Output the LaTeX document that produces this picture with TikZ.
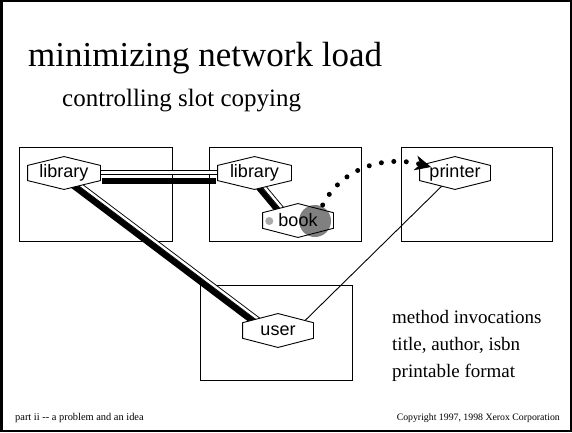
\documentclass[tikz,border=0pt]{standalone}
\usepackage{fontspec}
\setmainfont{Liberation Serif}
\newfontfamily\hvfont{Liberation Sans}
\usetikzlibrary{arrows.meta,calc}
\pgfdeclarelayer{bg}
\pgfdeclarelayer{conn}
\pgfsetlayers{bg,conn,main}
\makeatletter
\pgfdeclareshape{hexa}{%
  \inheritsavedanchors[from=rectangle]%
  \inheritanchorborder[from=rectangle]%
  \inheritanchor[from=rectangle]{center}%
  \inheritanchor[from=rectangle]{north}%
  \inheritanchor[from=rectangle]{south}%
  \inheritanchor[from=rectangle]{east}%
  \inheritanchor[from=rectangle]{west}%
  \inheritanchor[from=rectangle]{north east}%
  \inheritanchor[from=rectangle]{north west}%
  \inheritanchor[from=rectangle]{south east}%
  \inheritanchor[from=rectangle]{south west}%
  \backgroundpath{%
    \southwest \pgf@xa=\pgf@x \pgf@ya=\pgf@y
    \northeast \pgf@xb=\pgf@x \pgf@yb=\pgf@y
    \pgf@xc=.5\pgf@xa \advance\pgf@xc by .5\pgf@xb
    \pgf@yc=\pgf@yb \advance\pgf@yc by -\pgf@ya
    \pgf@yc=.27\pgf@yc
    \edef\hxa{\the\pgf@xa}\edef\hxb{\the\pgf@xb}\edef\hxc{\the\pgf@xc}%
    \edef\hya{\the\pgf@ya}\edef\hyb{\the\pgf@yb}%
    \pgf@y=\pgf@yb \advance\pgf@y by -\pgf@yc \edef\hyu{\the\pgf@y}%
    \pgf@y=\pgf@ya \advance\pgf@y by \pgf@yc \edef\hyl{\the\pgf@y}%
    \pgfpathmoveto{\pgfpoint{\hxc}{\hyb}}%
    \pgfpathlineto{\pgfpoint{\hxb}{\hyu}}%
    \pgfpathlineto{\pgfpoint{\hxb}{\hyl}}%
    \pgfpathlineto{\pgfpoint{\hxc}{\hya}}%
    \pgfpathlineto{\pgfpoint{\hxa}{\hyl}}%
    \pgfpathlineto{\pgfpoint{\hxa}{\hyu}}%
    \pgfpathclose
  }%
}
\makeatother
\definecolor{cgray}{RGB}{128,128,128}
\definecolor{dgray}{RGB}{170,170,170}
\begin{document}
\begin{tikzpicture}[x=1pt,y=1pt,
  box/.style={draw, line width=1pt, inner sep=0pt},
  hex/.style={shape=hexa, draw, line width=0.9pt, fill=white, inner sep=0pt,
    minimum width=71pt, minimum height=32pt, font=\hvfont\fontsize{18}{20}\selectfont},
  thickbar/.style={line width=6pt},
  dbl/.style={double=white, double distance=2.4pt, line width=0.9pt},
  thinline/.style={line width=0.9pt},
  dotarrow/.style={line width=5pt, line cap=round, dash pattern=on 0pt off 12.5pt,
    -{Stealth[length=16pt,width=15pt,inset=5pt,line width=0.8pt]}},
  body/.style={font=\fontsize{19}{22}\selectfont, anchor=base west, inner sep=0pt},
]
\useasboundingbox (0,0) rectangle (572,432);
\draw[line width=2.5pt] (1.25,1.25) rectangle (570.75,430.75);

% titles
\node[font=\fontsize{35}{40}\selectfont, anchor=base west, inner sep=0pt] (title) at (28,365) {minimizing network load};
\node[font=\fontsize{25}{30}\selectfont, anchor=base west, inner sep=0pt] (subtitle) at (62,326) {controlling slot copying};

% boxes
\begin{pgfonlayer}{bg}
\node[box, minimum width=153pt, minimum height=94pt] (box1) at (95.5,238) {};
\node[box, minimum width=152pt, minimum height=94pt] (box2) at (285,238) {};
\node[box, minimum width=151pt, minimum height=94pt] (box3) at (476.5,238) {};
\node[box, minimum width=152pt, minimum height=95pt] (box4) at (276,99.5) {};
\end{pgfonlayer}

% hexagon objects
\node[hex, minimum width=72pt] (lib1) at (64,259) {library};
\node[hex, minimum width=73pt] (lib2) at (254.5,259) {library};
\node[hex, minimum width=70pt] (printer) at (455,259) {printer};
\node[hex, minimum width=70pt, minimum height=33pt,
  path picture={\fill[cgray] ([xshift=17pt,yshift=-0.5pt]path picture bounding box.center) circle[radius=16pt];}]
  (book) at (298,211.5) {book};
\node[hex, minimum width=70pt, minimum height=33pt] (user) at (278,101.5) {user};

% gray marks on book
\begin{pgfonlayer}{bg}
\fill[cgray] ([xshift=17pt,yshift=-0.5pt]book.center) circle[radius=16pt];
\end{pgfonlayer}
\fill[dgray] ([xshift=-28.7pt,yshift=-0.5pt]book.center) circle[radius=4pt];

% connectors
\begin{pgfonlayer}{conn}
\draw[dbl] ([yshift=0.5pt]lib1.center) -- ([yshift=0.5pt]lib2.center);
\draw[thickbar] ([shift={(38,-7.5)}]lib1.center) -- ([shift={(-38.5,-7.5)}]lib2.center);
\draw[thickbar] ([shift={(6.2,-10.4)}]lib1.center) -- ([shift={(-22.2,7)}]user.center);
\draw[dbl] ([shift={(13.2,-9.5)}]lib1.center) -- ([shift={(-16.6,9)}]user.center);
\draw[thickbar, line width=5.5pt] ([shift={(1.3,-11.3)}]lib2.center) -- ([shift={(-18.8,8.2)}]book.center);
\draw[dbl] ([shift={(6.7,-10.2)}]lib2.center) -- ([shift={(-12.9,8.6)}]book.center);
\draw[thinline] ([shift={(-6,-6)}]printer.center) -- ([shift={(22,5)}]user.center);
\end{pgfonlayer}
\draw[dotarrow] ([shift={(24.7,15.5)}]book.center) .. controls (343.2,266.6) and (387.5,276.4) .. ([shift={(-24,6)}]printer.center);

% legend text
\node[body] (m1) at (392,109) {method invocations};
\node[body] (m2) at (392,82) {title, author, isbn};
\node[body] (m3) at (392,55) {printable format};

% footer
\node[font=\fontsize{10.4}{12}\selectfont, anchor=base west, inner sep=0pt] (footl) at (15,11.3) {part ii -{}- a problem and an idea};
\node[font=\fontsize{9.8}{12}\selectfont, anchor=base east, inner sep=0pt] (footr) at (560,11.3) {Copyright 1997, 1998 Xerox Corporation};
\end{tikzpicture}
\end{document}
